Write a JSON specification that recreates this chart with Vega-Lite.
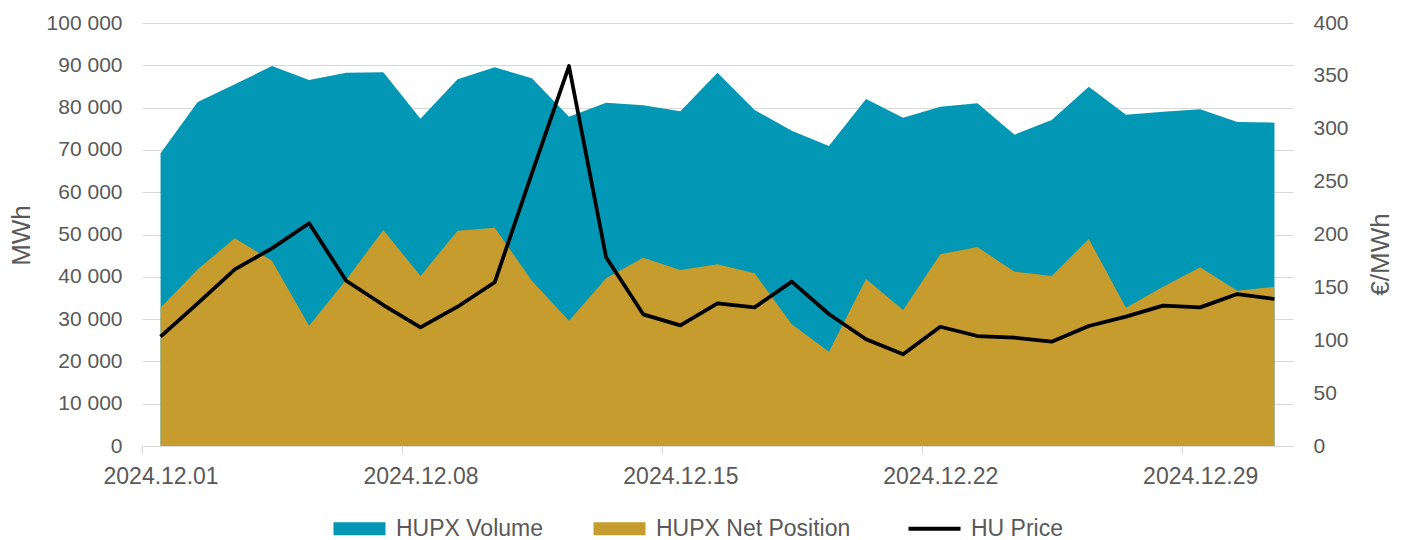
{
  "$schema": "https://vega.github.io/schema/vega-lite/v6.json",
  "width": 1151,
  "height": 423,
  "autosize": {"type": "none"},
  "padding": {"left": 142, "top": 23, "right": 115, "bottom": 94},
  "background": "white",
  "config": {
    "view": {"stroke": null},
    "font": "Liberation Sans",
    "axis": {"labelColor": "#595959", "titleColor": "#595959", "titleFontWeight": "normal"}
  },
  "data": {
    "values": [
      {"date": "2024-12-01", "volume": 69200, "net": 32700, "price": 103.4},
      {"date": "2024-12-02", "volume": 81300, "net": 41770, "price": 134.9},
      {"date": "2024-12-03", "volume": 85500, "net": 49100, "price": 167.1},
      {"date": "2024-12-04", "volume": 89830, "net": 43800, "price": 186.9},
      {"date": "2024-12-05", "volume": 86500, "net": 28440, "price": 210.6},
      {"date": "2024-12-06", "volume": 88260, "net": 39300, "price": 156.3},
      {"date": "2024-12-07", "volume": 88340, "net": 51060, "price": 133.3},
      {"date": "2024-12-08", "volume": 77380, "net": 40190, "price": 112.2},
      {"date": "2024-12-09", "volume": 86680, "net": 50900, "price": 131.7},
      {"date": "2024-12-10", "volume": 89520, "net": 51610, "price": 154.8},
      {"date": "2024-12-11", "volume": 86920, "net": 39080, "price": 257.9},
      {"date": "2024-12-12", "volume": 77850, "net": 29630, "price": 359.3},
      {"date": "2024-12-13", "volume": 81170, "net": 39640, "price": 178.4},
      {"date": "2024-12-14", "volume": 80540, "net": 44520, "price": 124.5},
      {"date": "2024-12-15", "volume": 79120, "net": 41610, "price": 114.1},
      {"date": "2024-12-16", "volume": 88260, "net": 42950, "price": 134.9},
      {"date": "2024-12-17", "volume": 79430, "net": 40830, "price": 131.1},
      {"date": "2024-12-18", "volume": 74540, "net": 28770, "price": 155.4},
      {"date": "2024-12-19", "volume": 70920, "net": 22300, "price": 124.8},
      {"date": "2024-12-20", "volume": 82030, "net": 39480, "price": 100.9},
      {"date": "2024-12-21", "volume": 77620, "net": 32150, "price": 86.7},
      {"date": "2024-12-22", "volume": 80220, "net": 45310, "price": 112.8},
      {"date": "2024-12-23", "volume": 81010, "net": 47040, "price": 104.0},
      {"date": "2024-12-24", "volume": 73600, "net": 41210, "price": 102.4},
      {"date": "2024-12-25", "volume": 77070, "net": 40190, "price": 98.6},
      {"date": "2024-12-26", "volume": 84950, "net": 48940, "price": 113.5},
      {"date": "2024-12-27", "volume": 78330, "net": 32700, "price": 122.3},
      {"date": "2024-12-28", "volume": 79040, "net": 37670, "price": 132.7},
      {"date": "2024-12-29", "volume": 79590, "net": 42240, "price": 131.1},
      {"date": "2024-12-30", "volume": 76600, "net": 36720, "price": 143.7},
      {"date": "2024-12-31", "volume": 76440, "net": 37670, "price": 139.0}
    ]
  },
  "encoding": {
    "x": {
      "field": "date",
      "type": "temporal",
      "title": null,
      "scale": {
        "type": "utc",
        "domain": [
          {"year": 2024, "month": 11, "date": 30, "hours": 12, "utc": true},
          {"year": 2024, "month": 12, "date": 31, "hours": 12, "utc": true}
        ]
      },
      "axis": {
        "values": [
          {"year": 2024, "month": 12, "date": 1, "utc": true},
          {"year": 2024, "month": 12, "date": 8, "utc": true},
          {"year": 2024, "month": 12, "date": 15, "utc": true},
          {"year": 2024, "month": 12, "date": 22, "utc": true},
          {"year": 2024, "month": 12, "date": 29, "utc": true}
        ],
        "format": "%Y.%m.%d",
        "grid": false,
        "tickOffset": -18.565,
        "labelOffset": 18.565,
        "tickSize": 7,
        "tickColor": "#d9d9d9",
        "domainColor": "#d9d9d9",
        "labelPadding": 12,
        "labelFontSize": 23,
        "labelFlush": false,
        "labelOverlap": false
      }
    }
  },
  "layer": [
    {
      "layer": [
        {
          "mark": {"type": "area"},
          "encoding": {
            "y": {
              "field": "volume",
              "type": "quantitative",
              "title": "MWh",
              "scale": {"domain": [0, 100000]},
              "axis": {
                "values": [0, 10000, 20000, 30000, 40000, 50000, 60000, 70000, 80000, 90000, 100000],
                "labelExpr": "replace(format(datum.value, ','), ',', ' ')",
                "grid": true,
                "gridColor": "#d9d9d9",
                "gridWidth": 1,
                "ticks": false,
                "tickSize": 0,
                "domain": false,
                "labelPadding": 20,
                "labelFontSize": 21,
                "titleFontSize": 26,
                "titleAngle": 270,
                "titleX": -121,
                "titleY": 212,
                "titleAlign": "center",
                "titleBaseline": "middle"
              }
            },
            "color": {
              "datum": "HUPX Volume",
              "type": "nominal",
              "scale": {
                "domain": ["HUPX Volume", "HUPX Net Position", "HU Price"],
                "range": ["#0298B5", "#C69C2E", "#000000"]
              },
              "legend": {
                "orient": "none",
                "legendX": 206,
                "legendY": 494,
                "direction": "horizontal",
                "title": null,
                "padding": 0,
                "labelFontSize": 23,
                "labelColor": "#595959",
                "labelLimit": 400,
                "symbolSize": 2704,
                "symbolType": "M-1,-0.25H1V0.25H-1Z",
                "labelOffset": 25,
                "columnPadding": 49,
                "encode": {
                  "symbols": {
                    "update": {
                      "shape": {"signal": "datum.value === 'HU Price' ? 'M-1,0H1' : 'M-1,-0.25H1V0.25H-1Z'"},
                      "strokeWidth": {"signal": "datum.value === 'HU Price' ? 4 : 0"},
                      "stroke": {"signal": "datum.value === 'HU Price' ? '#000000' : 'transparent'"},
                      "fill": {"signal": "datum.value === 'HU Price' ? 'transparent' : scale('color', datum.value)"},
                      "opacity": {"value": 1}
                    }
                  }
                }
              }
            }
          }
        },
        {
          "mark": {"type": "area"},
          "encoding": {
            "y": {"field": "net", "type": "quantitative", "title": "MWh"},
            "color": {"datum": "HUPX Net Position", "type": "nominal"}
          }
        }
      ]
    },
    {
      "mark": {"type": "line", "strokeWidth": 3.75, "strokeJoin": "round"},
      "encoding": {
        "y": {
          "field": "price",
          "type": "quantitative",
          "title": "€/MWh",
          "scale": {"domain": [0, 400]},
          "axis": {
            "orient": "right",
            "values": [0, 50, 100, 150, 200, 250, 300, 350, 400],
            "grid": false,
            "ticks": false,
            "tickSize": 0,
            "domain": false,
            "labelPadding": 20,
            "labelFontSize": 21,
            "titleFontSize": 26,
            "titleAngle": 270,
            "titleX": 87,
            "titleY": 231,
            "titleAlign": "center",
            "titleBaseline": "middle"
          }
        },
        "color": {"datum": "HU Price", "type": "nominal"}
      }
    }
  ],
  "resolve": {"scale": {"y": "independent"}}
}
